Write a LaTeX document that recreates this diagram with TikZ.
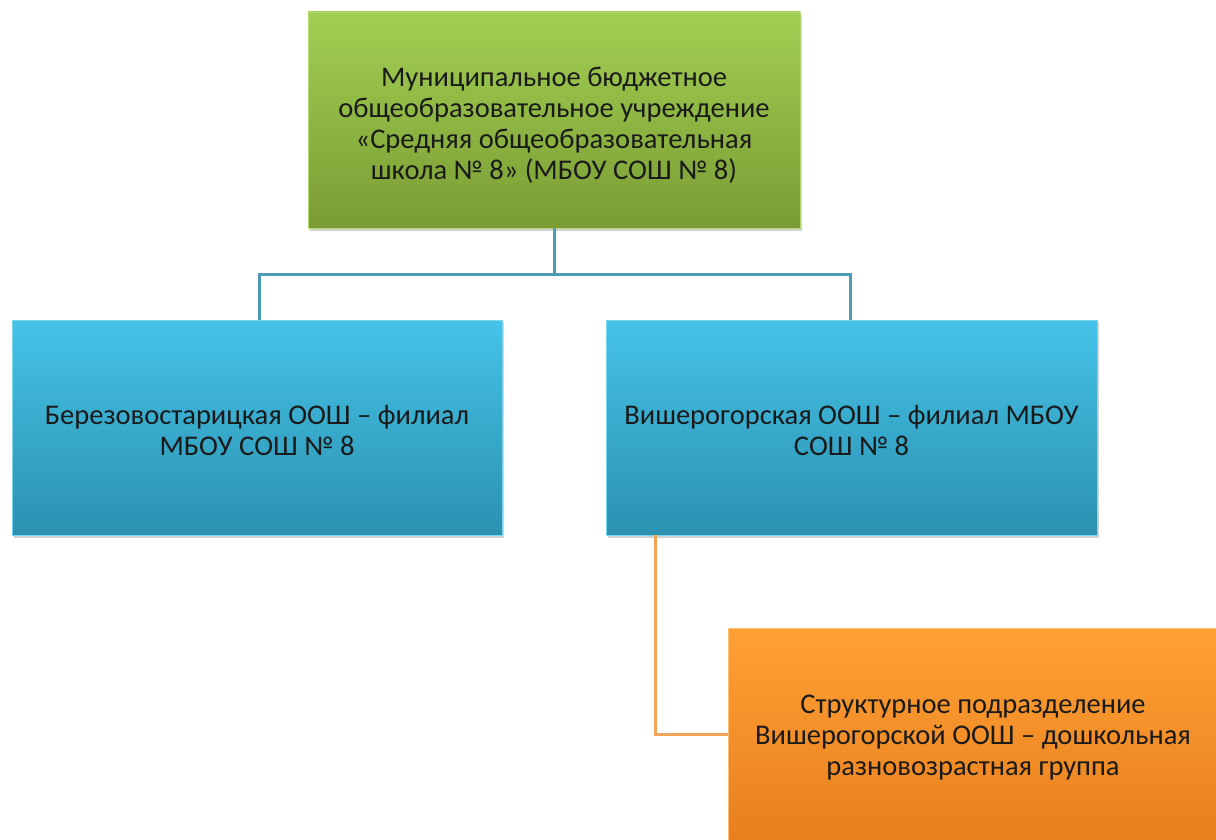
\documentclass[tikz,border=0pt]{standalone}
\usepackage{fontspec}
\setmainfont{Carlito}
\usetikzlibrary{shadows}
\definecolor{gtop}{HTML}{A2CF52}
\definecolor{gbot}{HTML}{7A9C34}
\definecolor{btop}{HTML}{45C3E8}
\definecolor{bbot}{HTML}{2B91B0}
\definecolor{otop}{HTML}{FFA036}
\definecolor{obot}{HTML}{E8801C}
\definecolor{tealline}{HTML}{4B9BB6}
\definecolor{orline}{HTML}{F0A55A}
\definecolor{txt}{HTML}{1A1A1A}
\tikzset{
  box/.style={rectangle, inner sep=0pt,
    drop shadow={opacity=0.35, shadow xshift=2pt, shadow yshift=-3pt}},
  label text/.style={inner sep=0pt, align=center, text=txt,
    font=\fontsize{28.5}{31}\selectfont},
  greenbox/.style={box, top color=gtop, bottom color=gbot, draw=gtop!80!white, line width=0.8pt},
  bluebox/.style={box, top color=btop, bottom color=bbot, draw=btop!70!white, line width=0.8pt},
  orangebox/.style={box, top color=otop, bottom color=obot, draw=otop!70!white, line width=0.8pt},
  tline/.style={draw=tealline, line width=3pt},
  oline/.style={draw=orline, line width=3pt}
}
\begin{document}
\begin{tikzpicture}[x=1pt, y=-1pt]
\useasboundingbox[fill=white] (0,0) rectangle (1216,840);
\node[greenbox, minimum width=492pt, minimum height=216pt] (top) at (554,120) {};
\node[label text] (toptxt) at ([yshift=-5pt]top.center)
  {Муниципальное бюджетное\\общеобразовательное учреждение\\«Средняя общеобразовательная\\школа № 8» (МБОУ СОШ № 8)};
\node[bluebox, minimum width=490pt, minimum height=215pt] (left) at (257,427.5) {};
\node[label text] (lefttxt) at ([yshift=-3pt]left.center)
  {Березовостарицкая ООШ – филиал\\МБОУ СОШ № 8};
\node[bluebox, minimum width=491pt, minimum height=215pt] (right) at (851.5,427.5) {};
\node[label text] (righttxt) at ([yshift=-3pt]right.center)
  {Вишерогорская ООШ – филиал МБОУ\\СОШ № 8};
\node[orangebox, minimum width=490pt, minimum height=212pt] (sub) at (973,734) {};
\node[label text] (subtxt) at ([yshift=-4pt]sub.center)
  {Структурное подразделение\\Вишерогорской ООШ – дошкольная\\разновозрастная группа};
\coordinate (jn) at (554,274);
\draw[tline] (top.south) -- (jn);
\draw[tline] ([xshift=2pt]left.north) |- (jn) -| ([xshift=-1pt]right.north);
\draw[oline] ([xshift=-196.5pt]right.south) |- (sub.west);
\end{tikzpicture}
\end{document}
